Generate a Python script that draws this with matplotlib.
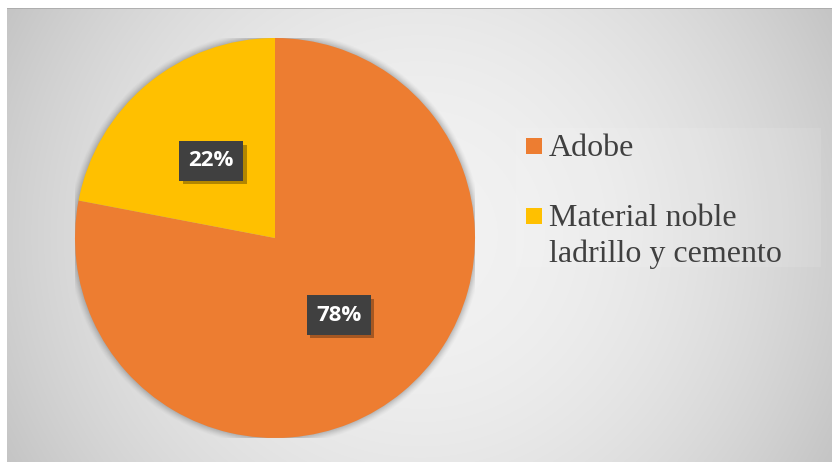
import numpy as np
import matplotlib
matplotlib.use("Agg")
import matplotlib.pyplot as plt
import matplotlib.patheffects as pe
from matplotlib.patches import Rectangle, Circle

# ---- data ----
categories = ["Adobe", "Material noble\nladrillo y cemento"]
values = [78, 22]
colors = ["#ED7D31", "#FFC000"]

W, H = 832, 462
fig = plt.figure(figsize=(W / 100, H / 100), dpi=100)
fig.patch.set_facecolor("white")

# ---- background radial gradient (chart area) ----
x0, y0top = 7, 8
bg = fig.add_axes([x0 / W, 0, (W - x0) / W, (H - y0top) / H])
xs = np.arange(x0, W) + 0.5
ys = np.arange(y0top, H) + 0.5
XX, YY = np.meshgrid(xs, ys)
d = np.hypot(XX - 420, YY - 235) / 471.0
v = 0.95 - 0.18 * np.clip(d, 0, 1.1) ** 2
bg.imshow(np.dstack([v, v, v]), extent=(0, 1, 0, 1), aspect="auto", origin="upper",
          interpolation="bilinear")
bg.plot([0, 1], [0.999, 0.999], color="#a9a9a9", lw=1.2, transform=bg.transAxes)
bg.set_xlim(0, 1)
bg.set_ylim(0, 1)
bg.axis("off")

# ---- pie ----
cx, cy, r = 275, 238, 200
ax = fig.add_axes([(cx - r) / W, (H - cy - r) / H, 2 * r / W, 2 * r / H])
ax.set_facecolor("none")
# soft shadow behind pie
for k, a in zip(np.linspace(1.035, 1.0, 8), np.linspace(0.015, 0.05, 8)):
    ax.add_patch(Circle((0, 0), k, color="black", alpha=a, lw=0, zorder=0))

wedges, texts, autotexts = ax.pie(
    values, colors=colors, startangle=90, counterclock=False,
    autopct="%1.0f%%", pctdistance=0.5,
    wedgeprops=dict(linewidth=0),
)
for t in autotexts:
    t.set_fontfamily("Open Sans")
    t.set_fontweight("bold")
    t.set_fontsize(16)
    t.set_color("white")
    t.set_bbox(dict(boxstyle="square,pad=0.42", fc="#404040", ec="none"))
    t.get_bbox_patch().set_path_effects([
        pe.withSimplePatchShadow(offset=(2.5, -2.5), shadow_rgbFace="black", alpha=0.3),
        pe.Normal(),
    ])
ax.set_xlim(-1, 1)
ax.set_ylim(-1, 1)
ax.set_aspect("equal")
ax.axis("off")

# ---- legend (drawn manually) ----
fig.patches.append(Rectangle((516 / W, (H - 267) / H), (821 - 516) / W, (267 - 128) / H,
                             transform=fig.transFigure, fc="white", alpha=0.1, ec="none"))
sq = 16
item_baselines = [155.5, 226]
line_gap = 36
for lab, col, base in zip(categories, colors, item_baselines):
    fig.patches.append(Rectangle((526 / W, (H - base + 1.5) / H), sq / W, sq / H,
                                 transform=fig.transFigure, fc=col, ec="none"))
    for i, line in enumerate(lab.split("\n")):
        fig.text(549 / W, (H - base - i * line_gap) / H, line, fontsize=23,
                 family="Liberation Serif", color="#404040", va="baseline", ha="left")

fig.savefig("out.png", dpi=100)
